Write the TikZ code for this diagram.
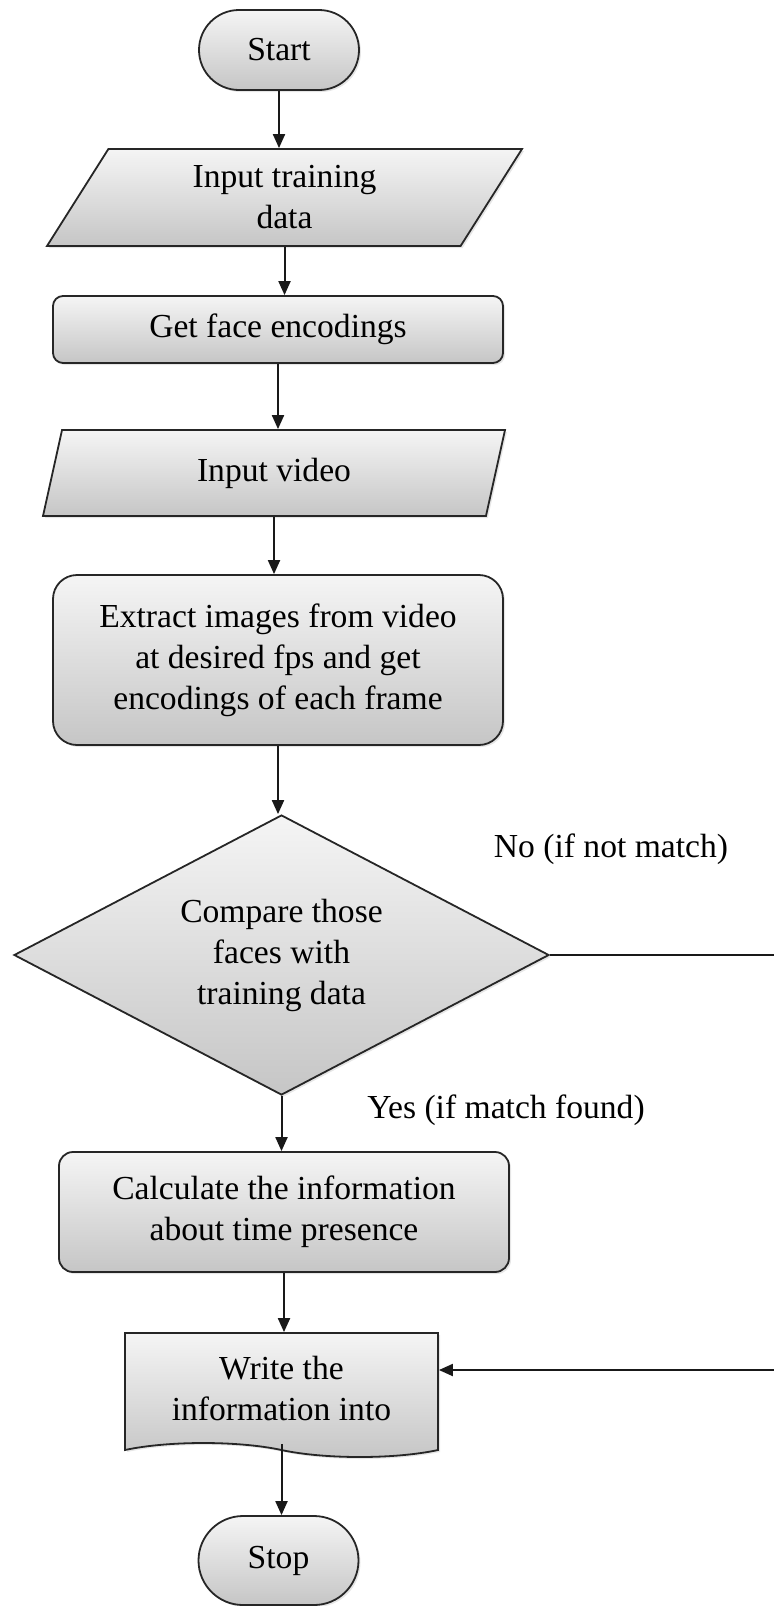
\documentclass[tikz,border=0pt]{standalone}
\usepackage{fontspec}
\setmainfont{Liberation Serif}
\usetikzlibrary{shapes.geometric, shapes.misc, shapes.symbols, arrows.meta, shadows}

\begin{document}
\begin{tikzpicture}[x = 0.5pt, y = -0.5pt,
		every node/.style = {font = \fontsize{16.8}{20.5}\selectfont},
		box/.style = {draw = black!85, line width = 0.9pt, top color = gray!8, bottom color = gray!45,
			drop shadow = {opacity = 0.2, shadow xshift = 1pt, shadow yshift = -1pt},
			align = center, inner sep = 0pt},
		term/.style = {box, rounded rectangle, minimum width = 80pt, minimum height = 40pt},
		io/.style = {box, trapezium, trapezium stretches body},
		proc/.style = {box, rectangle, minimum width = 225pt},
		line/.style = {line width = 1pt, draw = black!90},
		arr/.style = {line, -{Triangle[length = 7pt, width = 6pt]}}]
		
		\useasboundingbox (0, 0) rectangle (774, 1606);
		
		\node[term] (start) at (279, 50) {Start};
		\node[io, trapezium left angle = 46, trapezium right angle = 134,
			minimum width = 237.5pt, minimum height = 48.5pt] (train) at (284.5, 197.5) {Input training\\data};
		\node[proc, rounded corners = 5pt, minimum height = 33.5pt] (enc) at (278, 329.5) {Get face encodings};
		\node[io, trapezium left angle = 58, trapezium right angle = 122,
			minimum width = 231pt, minimum height = 43pt] (video) at (274, 473) {Input video};
		\node[proc, rounded corners = 12pt, minimum height = 85pt] (extract) at (278, 660)
			{Extract images from video\\at desired fps and get\\encodings of each frame};
		\node[box, diamond, aspect = 2, minimum width = 267.5pt, minimum height = 140pt] (cmp) at (281.5, 955)
			{Compare those\\faces with\\training data};
		\node[proc, rounded corners = 7pt, minimum height = 60pt] (calc) at (284, 1212)
			{Calculate the information\\about time presence};
		\node[box, tape, tape bend top = none, tape bend bottom = out and in, tape bend height = 7pt,
			minimum width = 156.5pt, minimum height = 62pt] (doc) at (281.5, 1388) {Write the\\information into};
		\node[term, minimum height = 44.5pt] (stop) at (278.5, 1560.5) {Stop};
		
		\node (nolab) at (611, 849) {No (if not match)};
		\node (yeslab) at (506, 1110) {Yes (if match found)};
		
		\coordinate (noend) at (774, 955);
		\coordinate (backin) at (774, 1370);
		
		\draw[arr] (start.south) -- (start.south |- train.north);
		\draw[arr] (train.south) -- (train.south |- enc.north);
		\draw[arr] (enc.south) -- (enc.south |- video.north);
		\draw[arr] (video.south) -- (video.south |- extract.north);
		\draw[arr] (extract.south) -- (extract.south |- cmp.north);
		\draw[arr] (cmp.south) -- (cmp.south |- calc.north);
		\draw[arr] (calc.south) -- (calc.south |- doc.north);
		\draw[arr] (doc.south) -- (doc.south |- stop.north);
		
		\draw[line] (cmp.east) -- (noend);
		\draw[arr] (backin) -- (backin -| doc.east);
	\end{tikzpicture}
\end{document}
